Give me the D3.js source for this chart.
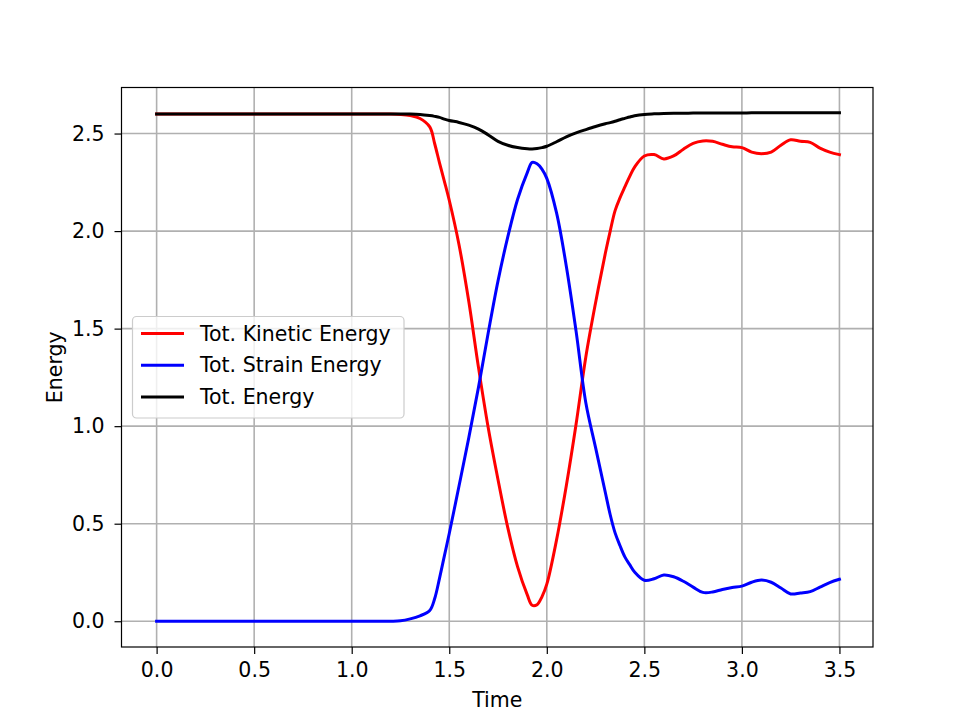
<!DOCTYPE html>
<html><head><meta charset="utf-8">
<script src="https://cdn.jsdelivr.net/npm/d3@7"></script>
<style>body{margin:0;background:#fff}svg{display:block}text{font-family:"DejaVu Sans",sans-serif}</style>
</head><body>
<svg id="c" width="970" height="727"></svg>
<script>
const time = [0,0.4,0.8,1.0,1.1,1.2,1.25,1.3,1.35,1.4,1.425,1.45,1.475,1.5,1.55,1.6,1.65,1.7,1.75,1.8,1.85,1.9,1.925,1.95,1.975,2.0,2.05,2.1,2.15,2.2,2.25,2.3,2.325,2.35,2.375,2.4,2.425,2.45,2.5,2.55,2.6,2.65,2.7,2.75,2.8,2.85,2.9,2.95,3.0,3.05,3.1,3.15,3.2,3.25,3.3,3.35,3.4,3.45,3.5];
const kinetic = [2.6,2.6,2.6,2.6,2.6,2.6,2.598,2.592,2.577,2.534,2.449,2.35,2.255,2.158,1.93,1.64,1.30,0.99,0.725,0.48,0.28,0.135,0.082,0.085,0.125,0.19,0.417,0.695,1.01,1.355,1.633,1.886,2.0,2.105,2.17,2.226,2.28,2.328,2.385,2.392,2.37,2.385,2.42,2.45,2.462,2.46,2.445,2.432,2.428,2.405,2.397,2.405,2.44,2.468,2.46,2.455,2.425,2.405,2.392];
const strain = [0,0,0,0,0,0,0.002,0.012,0.028,0.055,0.115,0.22,0.335,0.45,0.693,0.94,1.20,1.48,1.745,1.97,2.162,2.30,2.352,2.345,2.318,2.27,2.093,1.82,1.487,1.12,0.89,0.66,0.546,0.453,0.388,0.33,0.29,0.252,0.21,0.218,0.237,0.228,0.205,0.175,0.148,0.15,0.163,0.173,0.18,0.2,0.211,0.2,0.17,0.14,0.145,0.152,0.175,0.198,0.215];
const total = [2.6,2.6,2.6,2.6,2.6,2.6,2.6,2.6,2.598,2.592,2.588,2.583,2.574,2.567,2.557,2.543,2.523,2.493,2.46,2.44,2.428,2.422,2.421,2.423,2.428,2.435,2.458,2.483,2.503,2.52,2.536,2.55,2.556,2.563,2.571,2.578,2.585,2.591,2.598,2.601,2.603,2.604,2.604,2.605,2.605,2.605,2.605,2.605,2.605,2.606,2.606,2.606,2.607,2.607,2.607,2.607,2.607,2.607,2.607];
const seriesNames = ["Tot. Kinetic Energy","Tot. Strain Energy","Tot. Energy"];
const seriesColors = ["#ff0000","#0000ff","#000000"];
const xTicks = [0,0.5,1.0,1.5,2.0,2.5,3.0,3.5];
const yTicks = [0,0.5,1.0,1.5,2.0,2.5];

const svg = d3.select("#c");
const L=121.5,R=873,T=87.5,B=647;
const FS=20.5;
const x = d3.scaleLinear().domain([-0.18,3.672]).range([L,R]);
const y = d3.scaleLinear().domain([-0.132,2.736]).range([B,T]);

// grid
svg.append("g").selectAll("line").data(xTicks).join("line")
  .attr("x1",d=>x(d)).attr("x2",d=>x(d)).attr("y1",T).attr("y2",B)
  .attr("stroke","#b0b0b0").attr("stroke-width",1.6);
svg.append("g").selectAll("line").data(yTicks).join("line")
  .attr("y1",d=>y(d)).attr("y2",d=>y(d)).attr("x1",L).attr("x2",R)
  .attr("stroke","#b0b0b0").attr("stroke-width",1.6);

// lines
const sets=[kinetic,strain,total];
const line = d3.line().x(d=>x(d[0])).y(d=>y(d[1])).curve(d3.curveCatmullRom.alpha(0.5));
sets.forEach((s,i)=>{
  svg.append("path").datum(time.map((t,j)=>[t,s[j]]))
    .attr("d",line).attr("fill","none").attr("stroke",seriesColors[i])
    .attr("stroke-width",3).attr("stroke-linejoin","round").attr("stroke-linecap","square");
});

// axes
const xa = svg.append("g").attr("transform",`translate(0,${B})`)
  .call(d3.axisBottom(x).tickValues(xTicks).tickFormat(d3.format(".1f")).tickSize(7).tickPadding(8));
const ya = svg.append("g").attr("transform",`translate(${L},0)`)
  .call(d3.axisLeft(y).tickValues(yTicks).tickFormat(d3.format(".1f")).tickSize(7).tickPadding(10));
[xa,ya].forEach(a=>{
  a.select(".domain").remove();
  a.selectAll("line").attr("stroke","#000").attr("stroke-width",1.2);
  a.selectAll("text").attr("font-size",FS).attr("fill","#000").attr("font-family","DejaVu Sans");
});
svg.append("rect").attr("x",L).attr("y",T).attr("width",R-L).attr("height",B-T)
  .attr("fill","none").attr("stroke","#000").attr("stroke-width",1.2);

// labels
svg.append("text").attr("x",(L+R)/2).attr("y",707).attr("text-anchor","middle")
  .attr("font-size",FS).text("Time");
svg.append("text").attr("transform",`translate(62,${(T+B)/2}) rotate(-90)`).attr("text-anchor","middle")
  .attr("font-size",FS).text("Energy");

// legend
const lg = svg.append("g");
lg.append("rect").attr("x",132.5).attr("y",316.5).attr("width",271.5).attr("height",101.5)
  .attr("rx",4).attr("fill","#fff").attr("fill-opacity",0.8).attr("stroke","#cccccc").attr("stroke-width",1.2);
seriesNames.forEach((n,i)=>{
  const yy = 333.5 + i*31.7;
  lg.append("line").attr("x1",141).attr("x2",184).attr("y1",yy).attr("y2",yy)
    .attr("stroke",seriesColors[i]).attr("stroke-width",3);
  lg.append("text").attr("x",200).attr("y",yy).attr("dy","0.35em").attr("font-size",FS).text(n);
});
</script>
</body></html>
